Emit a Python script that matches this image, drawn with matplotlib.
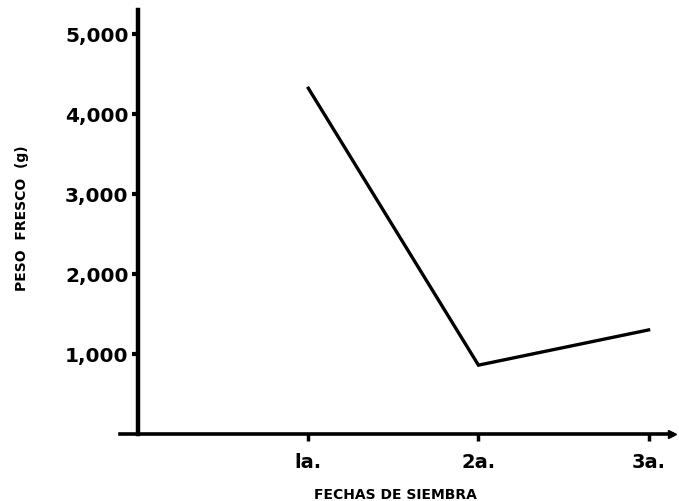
import matplotlib.pyplot as plt

fechas = [1, 2, 3]
fecha_labels = ['la.', '2a.', '3a.']
peso = [4320, 860, 1300]
yticks = [1000, 2000, 3000, 4000, 5000]
ytick_labels = ['1,000', '2,000', '3,000', '4,000', '5,000']

plt.rcParams['font.family'] = ['DejaVu Sans']

fig = plt.figure(figsize=(6.79, 5.02), dpi=100)
ax = fig.add_axes([0.177, 0.1335, 0.812, 0.845])

ax.plot(fechas, peso, color='black', linewidth=2.4, solid_joinstyle='miter')

ax.set_xlim(-0.106, 3.135)
ax.set_ylim(0, 5300)

ax.spines['top'].set_visible(False)
ax.spines['right'].set_visible(False)
ax.spines['left'].set_position(('data', 0))
ax.spines['left'].set_linewidth(3.2)
ax.spines['bottom'].set_linewidth(2.6)

ax.set_xticks(fechas)
ax.set_xticklabels(fecha_labels, fontsize=14, fontweight='bold')
ax.set_yticks(yticks)
ax.set_yticklabels(ytick_labels, fontsize=14.5, fontweight='bold')
ax.tick_params(axis='y', direction='out', length=4, width=3, pad=3)
ax.tick_params(axis='x', direction='out', length=5, width=2.5, pad=8)

# small arrow at the end of the x axis
ax.plot([1.0], [0], marker='>', color='black', markersize=6,
        transform=ax.get_yaxis_transform(), clip_on=False)

ax.set_xlabel('FECHAS DE SIEMBRA', fontsize=10, fontweight='bold')
ax.set_ylabel('PESO  FRESCO  (g)', fontsize=10, fontweight='bold')
ax.yaxis.set_label_coords(-0.165, 0.51)
ax.xaxis.set_label_coords(0.5, -0.125)

plt.savefig('out.png')
